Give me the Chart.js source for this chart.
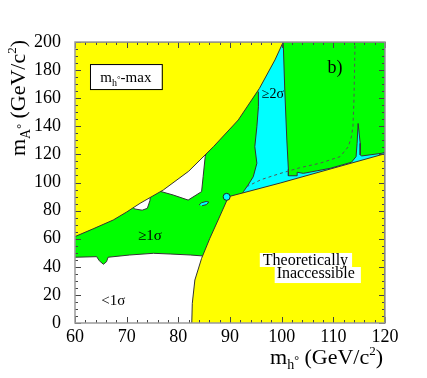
<!DOCTYPE html>
<html>
<head>
<meta charset="utf-8">
<script src="https://cdn.jsdelivr.net/npm/chart.js@4.4.1/dist/chart.umd.min.js"></script>
<style>
  body { margin: 0; background: #fff; }
  #wrap { width: 427px; height: 378px; }
</style>
</head>
<body>
<div id="wrap"><canvas id="c" width="427" height="378"></canvas></div>
<script>
// m_h - m_A plane, m_h-max scenario: excluded / allowed regions
const xTicks = [60, 70, 80, 90, 100, 110, 120];
const yTicks = [0, 20, 40, 60, 80, 100, 120, 140, 160, 180, 200];

// region outlines, [m_h, m_A] in GeV
const upperYellow = [[60, 61.5], [63.5, 67], [67.4, 73.3], [70, 79], [72.6, 85.2], [77.1, 94.7], [82, 108],
  [86.8, 125.5], [91.6, 144.5], [95.7, 167], [98.7, 187.2], [100.3, 200], [60, 200]];
const lowerYellow = [[82.6, 0], [82.7, 14], [83.2, 30.6], [84.5, 46], [86.1, 60.3], [87.7, 73.3], [89, 84],
  [89.7, 89.9], [99.7, 99.6], [120, 120.5], [120, 0]];
const greenArea = [[60, 46.8], [64.2, 47.2], [64.7, 44.3], [65.5, 41.8], [66.1, 43.6], [66.4, 46.8], [70.6, 48.4],
  [75.2, 49.6], [78.4, 49.1], [82.3, 48.4], [84.8, 47.7], [120, 100], [120, 200], [60, 200]];
const cyanBand = [[95.3, 172], [100.3, 200], [100.6, 165.8], [101, 130.2], [101.3, 109.4], [101.3, 104.8],
  [103, 104.8], [103, 107.3], [104.2, 106.5], [109.4, 110.1], [113.5, 114.4], [114.4, 118.4], [114.6, 127.9],
  [114.8, 142], [115.2, 127.9], [115.2, 119.6], [115.5, 118.9], [119.4, 120.8], [120, 121.5], [120, 118],
  [92, 89.5], [92.6, 93.5], [93.5, 98.2], [94.5, 104.1], [95.2, 113.7], [94.8, 125.5], [95.2, 139.7],
  [95.5, 154], [95.5, 164.6]];
const whitePocket = [[76, 96.5], [76.6, 93.6], [79, 91.1], [81.9, 87.5], [84.5, 93.5], [84.8, 104.1],
  [85.2, 118.4], [85.6, 124]];
const whiteNick = [[71, 84], [71.5, 81.2], [73, 80.3], [74, 81.6], [74.5, 87], [74.6, 90.5]];
const cyanBlob = [[84, 83.9], [84.5, 85.6], [85.4, 86.5], [85.9, 86], [85.4, 84.2], [84.6, 83.5]];
const cyanDot = [[89.35, 89.8]];
const dashedCurve = [[93.2, 97], [96, 102], [99.5, 106.2], [103.5, 110.5], [107.4, 113.7], [111.3, 118.4],
  [112.9, 125.5], [113.5, 132.6], [113.8, 140], [114, 160], [114.2, 200]];

const SERIF = '"Liberation Serif", "Times New Roman", serif';
const pts = a => a.map(p => ({x: p[0], y: p[1]}));

function region(data, color, order) {
  return {
    data: pts(data), showLine: true, fill: 'shape', backgroundColor: color,
    borderColor: '#333', borderWidth: 1, pointRadius: 0, tension: 0, order: order
  };
}

// draw a row of text pieces [text, size, dy]
function drawRuns(ctx, runs, x, y, align) {
  let w = 0;
  runs.forEach(r => { ctx.font = r[1] + 'px ' + SERIF; w += ctx.measureText(r[0]).width; });
  let cx = align === 'center' ? x - w / 2 : align === 'right' ? x - w : x;
  runs.forEach(r => {
    ctx.font = r[1] + 'px ' + SERIF;
    ctx.fillText(r[0], cx, y + (r[2] || 0));
    cx += ctx.measureText(r[0]).width;
  });
  return w;
}

const labels = {
  id: 'labels',
  afterDatasetsDraw(chart) {
    const {ctx, scales: {x, y}} = chart;
    ctx.save();
    ctx.fillStyle = '#000';
    ctx.textAlign = 'left';
    ctx.textBaseline = 'alphabetic';

    // scenario box
    const bx = x.getPixelForValue(62.9), by = y.getPixelForValue(184.3);
    const bw = x.getPixelForValue(76.8) - bx, bh = y.getPixelForValue(166.5) - by;
    ctx.fillStyle = '#fff';
    ctx.fillRect(bx, by, bw, bh);
    ctx.strokeStyle = '#000';
    ctx.lineWidth = 1;
    ctx.strokeRect(bx + 0.5, by + 0.5, bw, bh);
    ctx.fillStyle = '#000';
    drawRuns(ctx, [['m', 15], ['h', 10, 4], ['°', 9, 0], ['-max', 15]], bx + bw / 2, by + bh / 2 + 5, 'center');

    drawRuns(ctx, [['b)', 18]], x.getPixelForValue(110.3), y.getPixelForValue(182.2) + 6, 'center');
    drawRuns(ctx, [['\u22652\u03c3', 14]], x.getPixelForValue(98.3), y.getPixelForValue(163.7) + 5, 'center');
    drawRuns(ctx, [['\u22651\u03c3', 15]], x.getPixelForValue(74.5), y.getPixelForValue(62.6) + 5, 'center');
    drawRuns(ctx, [['<1\u03c3', 15]], x.getPixelForValue(67.4), y.getPixelForValue(16.4) + 5, 'center');

    // theoretically inaccessible, on white patches
    ctx.font = '16px ' + SERIF;
    const t1 = 'Theoretically', t2 = 'Inaccessible';
    const p1 = [x.getPixelForValue(104.6), y.getPixelForValue(41.3)];
    const p2 = [x.getPixelForValue(106.6), y.getPixelForValue(32.0)];
    const w1 = ctx.measureText(t1).width, w2 = ctx.measureText(t2).width;
    ctx.fillStyle = '#fff';
    ctx.fillRect(p1[0] - w1 / 2 - 3, p1[1] - 12, w1 + 7, 14);
    ctx.fillRect(p2[0] - w2 / 2 - 2, p2[1] - 11, w2 + 8, 16);
    ctx.fillStyle = '#000';
    ctx.textAlign = 'center';
    ctx.fillText(t1, p1[0], p1[1]);
    ctx.fillText(t2, p2[0], p2[1]);
    ctx.restore();
  },
  afterDraw(chart) {
    const {ctx, chartArea: a, scales: {x, y}} = chart;
    ctx.save();
    // inward ticks on all four sides
    ctx.strokeStyle = '#444';
    ctx.lineWidth = 1;
    ctx.beginPath();
    for (let v = 60; v <= 120; v += 2) {
      const px = Math.round(x.getPixelForValue(v)) + 0.5, len = v % 10 === 0 ? 6 : 3;
      ctx.moveTo(px, a.bottom); ctx.lineTo(px, a.bottom - len);
      ctx.moveTo(px, a.top); ctx.lineTo(px, a.top + len);
    }
    for (let v = 0; v <= 200; v += 5) {
      const py = Math.round(y.getPixelForValue(v)) + 0.5, len = v % 20 === 0 ? 6 : 3;
      ctx.moveTo(a.left, py); ctx.lineTo(a.left + len, py);
      ctx.moveTo(a.right, py); ctx.lineTo(a.right - len, py);
    }
    ctx.stroke();
    ctx.strokeStyle = '#9a9a9a';
    ctx.lineWidth = 1.5;
    ctx.strokeRect(a.left, a.top, a.right - a.left, a.bottom - a.top);

    // axis titles
    ctx.fillStyle = '#000';
    ctx.textAlign = 'left';
    ctx.textBaseline = 'alphabetic';
    drawRuns(ctx, [['m', 22], ['h', 14, 5], ['\u00b0', 12, 0], [' (GeV/c', 22], ['2', 13, -9], [')', 22]], 383, 364, 'right');
    ctx.translate(25, 98);
    ctx.rotate(-Math.PI / 2);
    drawRuns(ctx, [['m', 22], ['A', 14, 5], ['\u00b0', 12, 0], [' (GeV/c', 22], ['2', 13, -9], [')', 22]], 0, 0, 'center');
    ctx.restore();
  }
};

new Chart(document.getElementById('c').getContext('2d'), {
  type: 'scatter',
  data: {
    datasets: [
      {data: pts(cyanDot), pointRadius: 3.5, backgroundColor: '#00ffff', borderColor: '#222', borderWidth: 1, order: 0},
      {data: pts(dashedCurve), showLine: true, fill: false, borderColor: '#555', borderWidth: 1,
        borderDash: [3, 3], pointRadius: 0, order: 1},
      region(upperYellow, '#ffff00', 2),
      region(lowerYellow, '#ffff00', 2),
      region(cyanBlob, '#00ffff', 3),
      region(whitePocket, '#ffffff', 4),
      region(whiteNick, '#ffffff', 4),
      region(cyanBand, '#00ffff', 5),
      region(greenArea, '#00ff00', 6)
    ]
  },
  options: {
    responsive: false,
    animation: false,
    events: [],
    layout: {padding: {top: 42, right: 42, left: 0, bottom: 0}},
    plugins: {legend: {display: false}, tooltip: {enabled: false}},
    scales: {
      x: {
        min: 60, max: 120,
        afterFit: s => { s.height = 55; },
        afterBuildTicks: s => { s.ticks = xTicks.map(v => ({value: v})); },
        grid: {display: false, drawTicks: false},
        border: {display: false},
        ticks: {padding: 3, color: '#000', font: {family: SERIF, size: 18}}
      },
      y: {
        min: 0, max: 200,
        afterFit: s => { s.width = 75; },
        afterBuildTicks: s => { s.ticks = yTicks.map(v => ({value: v})); },
        grid: {display: false, drawTicks: false},
        border: {display: false},
        ticks: {padding: 14, color: '#000', font: {family: SERIF, size: 18}}
      }
    }
  },
  plugins: [labels]
});
</script>
</body>
</html>
